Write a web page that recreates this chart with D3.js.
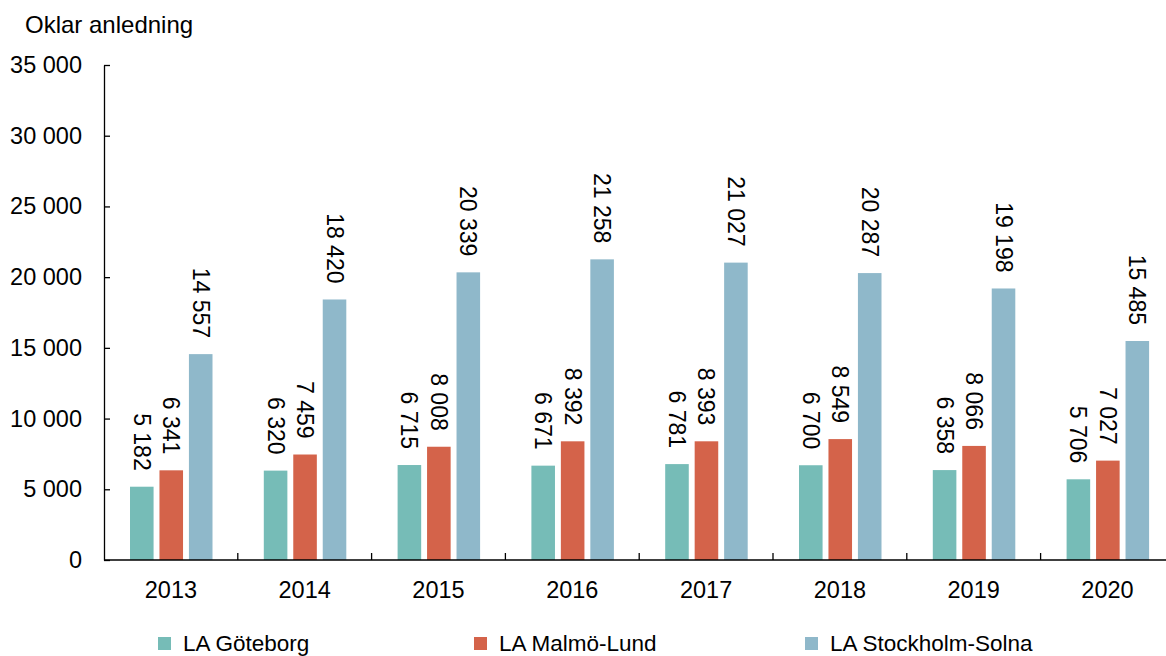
<!DOCTYPE html>
<html>
<head>
<meta charset="utf-8">
<script src="https://cdn.jsdelivr.net/npm/d3@7"></script>
<style>
  body { margin: 0; background: #fff; }
  svg { display: block; font-family: "Liberation Sans", Arial, sans-serif; }
</style>
</head>
<body>
<svg id="chart" width="1166" height="656"></svg>
<script>
const years = ['2013', '2014', '2015', '2016', '2017', '2018', '2019', '2020'];
const seriesNames = ['LA Göteborg', 'LA Malmö-Lund', 'LA Stockholm-Solna'];
const goteborg = [5182, 6320, 6715, 6671, 6781, 6700, 6358, 5706];
const malmo = [6341, 7459, 8008, 8392, 8393, 8549, 8066, 7027];
const stockholm = [14557, 18420, 20339, 21258, 21027, 20287, 19198, 15485];
const yTicks = [0, 5000, 10000, 15000, 20000, 25000, 30000, 35000];
const colors = ['#76bcb7', '#d4634a', '#8fb8ca'];

const svg = d3.select('#chart');
const tickFont = 23.5;
const labelFont = 23;
const fmt = v => d3.format(',')(v).replace(/,/g, ' ');

const x0 = d3.scaleBand().domain(years).range([104, 104 + 8 * 133.8]).paddingInner(0).paddingOuter(0);
const x1 = d3.scaleBand().domain(seriesNames).range([26, 26 + 82.5]).paddingInner(0.2);
const y = d3.scaleLinear().domain([0, 35000]).range([560, 65]);

const rows = years.map((yr, i) => ({ year: yr, values: [goteborg[i], malmo[i], stockholm[i]] }));

// y axis
const yAxis = svg.append('g').attr('transform', 'translate(104,0)')
    .call(d3.axisLeft(y).tickValues(yTicks).tickSizeInner(-6).tickSizeOuter(0).tickPadding(22).tickFormat(fmt));
yAxis.select('.domain').attr('stroke', '#000').attr('stroke-width', 1.3);
yAxis.selectAll('.tick line').attr('stroke', '#000').attr('stroke-width', 1.3);
yAxis.selectAll('.tick text').attr('font-size', tickFont).attr('font-family', 'Liberation Sans, Arial, sans-serif').attr('fill', '#000');

// bars
const groups = svg.append('g').selectAll('g').data(rows).enter().append('g')
    .attr('transform', d => `translate(${x0(d.year)},0)`);

groups.selectAll('rect').data(d => d.values.map((v, k) => ({ v, k }))).enter().append('rect')
    .attr('x', d => x1(seriesNames[d.k]))
    .attr('width', x1.bandwidth())
    .attr('y', d => y(d.v))
    .attr('height', d => y(0) - y(d.v))
    .attr('fill', d => colors[d.k]);

groups.selectAll('text').data(d => d.values.map((v, k) => ({ v, k }))).enter().append('text')
    .attr('transform', d => `translate(${x1(seriesNames[d.k]) + x1.bandwidth() / 2},${y(d.v) - 16}) rotate(90)`)
    .attr('text-anchor', 'end')
    .attr('dominant-baseline', 'central')
    .attr('font-size', labelFont)
    .attr('fill', '#000')
    .text(d => fmt(d.v));

// x axis
const xAxis = svg.append('g').attr('transform', 'translate(0,560)');
xAxis.append('line').attr('x1', 104).attr('x2', 1166).attr('y1', 0).attr('y2', 0)
    .attr('stroke', '#000').attr('stroke-width', 1.3);
xAxis.selectAll('line.tk').data(years.slice(1)).enter().append('line').attr('class', 'tk')
    .attr('x1', d => x0(d)).attr('x2', d => x0(d)).attr('y1', 0).attr('y2', -7)
    .attr('stroke', '#000').attr('stroke-width', 1.3);
xAxis.selectAll('text').data(years).enter().append('text')
    .attr('x', d => x0(d) + x0.bandwidth() / 2)
    .attr('y', 38)
    .attr('text-anchor', 'middle')
    .attr('font-size', tickFont)
    .attr('fill', '#000')
    .text(d => d);

// title
svg.append('text').attr('x', 25).attr('y', 33).attr('font-size', 24).attr('fill', '#000').text('Oklar anledning');

// legend
const legendX = [158, 474, 805];
const legend = svg.append('g').selectAll('g').data(seriesNames).enter().append('g')
    .attr('transform', (d, i) => `translate(${legendX[i]},637)`);
legend.append('rect').attr('width', 13).attr('height', 13).attr('fill', (d, i) => colors[i]);
legend.append('text').attr('x', 25).attr('y', 14).attr('font-size', 22.5).attr('fill', '#000').text(d => d);
</script>
</body>
</html>
